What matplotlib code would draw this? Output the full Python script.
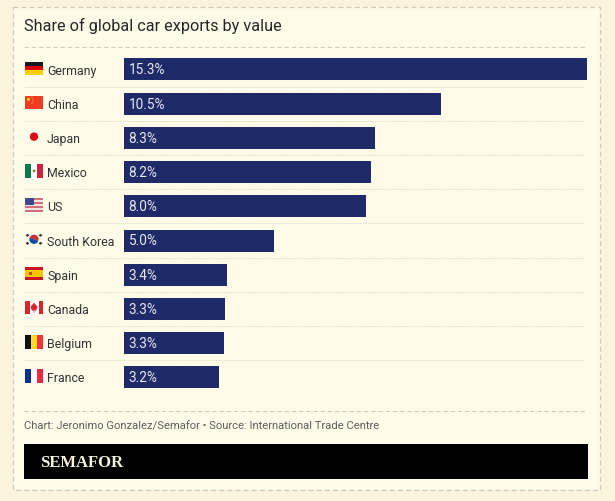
import matplotlib
matplotlib.use("Agg")
import matplotlib.pyplot as plt
from matplotlib.patches import Rectangle, Circle, Polygon, Wedge

countries = ["Germany", "China", "Japan", "Mexico", "US", "South Korea", "Spain", "Canada", "Belgium", "France"]
shares = [15.3, 10.48, 8.3, 8.18, 8.0, 4.98, 3.41, 3.35, 3.32, 3.15]
share_labels = ["15.3%", "10.5%", "8.3%", "8.2%", "8.0%", "5.0%", "3.4%", "3.3%", "3.3%", "3.2%"]
title = "Share of global car exports by value"
source = "Chart: Jeronimo Gonzalez/Semafor \u2022 Source: International Trade Centre"
brand = "SEMAFOR"

W, H = 615, 502
OUTER = "#FAF4DC"
INNER = "#FFFBE9"
NAVY = "#1F2A69"
INK = "#333333"
RULE = "#CFCDBB"
FONT = ["Roboto", "DejaVu Sans"]

fig = plt.figure(figsize=(W / 100, H / 100), dpi=100, facecolor=OUTER)

# page layer in pixel coordinates (y downwards)
bg = fig.add_axes([0, 0, 1, 1], zorder=0)
bg.set_xlim(0, W)
bg.set_ylim(H, 0)
bg.axis("off")

bg.add_patch(Rectangle((12.5, 7.5), 587, 483, fc=INNER, ec="#CDCBBB", lw=0.9, ls=(0, (4, 2.5))))
bg.text(24, 25.5, title, fontsize=11.72, color="#262626", family=FONT, va="center", ha="left")
bg.plot([24, 587], [47.5, 47.5], color=RULE, lw=0.8, ls=(0, (4, 2.5)))
bg.plot([24, 587], [411.5, 411.5], color=RULE, lw=0.8, ls=(0, (4, 2.5)))

# bars
ROW0, ROWSTEP = 70.4, 34.22
top = ROW0 - ROWSTEP / 2
bottom = top + ROWSTEP * len(shares)
ax = fig.add_axes([123.5 / W, 1 - bottom / H, (587 - 123.5) / W, (bottom - top) / H], zorder=2)
ax.set_xlim(0, 15.3)
ax.set_ylim(len(shares) - 0.5, -0.5)
ax.axis("off")
ax.patch.set_alpha(0)
ax.barh(list(range(len(shares))), shares, height=22 / ROWSTEP, color=NAVY, linewidth=0)
for i, lab in enumerate(share_labels):
    ax.annotate(lab, (0, i), xytext=(5, 0), textcoords="offset pixels",
                color="#E6E8F4", fontsize=9.8, family=FONT, va="center", ha="left")

# rows: separators, names
for i, name in enumerate(countries):
    y = ROW0 + i * ROWSTEP
    bg.text(47, y + 0.6, name, fontsize=8.9, color=INK, family=FONT, va="center", ha="left")
    if i < len(countries) - 1:
        bg.plot([25, 585], [y + ROWSTEP / 2, y + ROWSTEP / 2], color="#D9D7C4", lw=0.8, ls=(0, (1, 1.2)))


def stripes_h(y, cols, x=25, w=18, h=13.4):
    s = h / len(cols)
    for k, c in enumerate(cols):
        bg.add_patch(Rectangle((x, y - h / 2 + k * s), w, s, fc=c, lw=0))


def stripes_v(y, cols, x=25, w=18, h=13.4):
    s = w / len(cols)
    for k, c in enumerate(cols):
        bg.add_patch(Rectangle((x + k * s, y - h / 2), s, h, fc=c, lw=0))


ys = [ROW0 - 1.2 + i * ROWSTEP for i in range(10)]
# Germany
stripes_h(ys[0], ["#1A1A1A", "#DD0000", "#FFCE00"])
# China
stripes_h(ys[1], ["#EE3B24"])
bg.add_patch(Circle((28.5, ys[1] - 3), 1.5, fc="#FFDE00", lw=0))
for dx, dy in [(32, -5), (33, -3), (33, -1), (32, 1)]:
    bg.add_patch(Circle((dx, ys[1] + dy), 0.5, fc="#FFDE00", lw=0))
# Japan
bg.add_patch(Circle((34, ys[2]), 4.2, fc="#D80B16", lw=0))
# Mexico
stripes_v(ys[3], ["#0B7A4B", "#FFFFFF", "#D0233F"])
bg.add_patch(Circle((34, ys[3]), 1.3, fc="#8A6B3A", lw=0))
# US
stripes_h(ys[4], ["#D0707C", "#F4E4E0"] * 3 + ["#D0707C"])
bg.add_patch(Rectangle((25, ys[4] - 6.7), 9, 7, fc="#3C4A8C", lw=0))
# South Korea
bg.add_patch(Wedge((34, ys[5]), 4.6, 200, 20, fc="#CD2E3A", lw=0))
bg.add_patch(Wedge((34, ys[5]), 4.6, 20, 200, fc="#0F4A9C", lw=0))
for dx, dy in [(-6.5, -4), (6.5, -4), (-6.5, 4), (6.5, 4)]:
    bg.add_patch(Polygon([(34 + dx - 2, ys[5] + dy), (34 + dx, ys[5] + dy - 1.5),
                          (34 + dx + 2, ys[5] + dy), (34 + dx, ys[5] + dy + 1.5)], fc="#333333", lw=0))
# Spain
stripes_h(ys[6], ["#C8181E", "#FFC400", "#FFC400", "#C8181E"])
bg.add_patch(Rectangle((29, ys[6] - 1.5), 2.5, 3, fc="#B5541C", lw=0))
# Canada
stripes_v(ys[7], ["#D8262C", "#FFFFFF", "#FFFFFF", "#D8262C"])
bg.add_patch(Polygon([(34, ys[7] - 5), (37.5, ys[7] - 1), (36, ys[7] + 3), (34.4, ys[7] + 2.5), (34.4, ys[7] + 5),
                      (33.6, ys[7] + 5), (33.6, ys[7] + 2.5), (32, ys[7] + 3), (30.5, ys[7] - 1)],
                     fc="#D8262C", lw=0))
# Belgium
stripes_v(ys[8], ["#111111", "#FDDA24", "#EF3340"])
# France
stripes_v(ys[9], ["#0F2F8F", "#FFFFFF", "#EE2A43"])

# footer
bg.text(24, 426.2, source, fontsize=8.1, color="#5E5E5E", family=FONT, va="center", ha="left")
bg.add_patch(Rectangle((24, 444.5), 564, 35, fc="#000000", lw=0))
bg.text(40, 462.8, brand, fontsize=12.0, color="#F7F3DF", family="Liberation Serif",
        weight="bold", va="center", ha="left")

fig.savefig("out.png", dpi=100, facecolor=OUTER)
